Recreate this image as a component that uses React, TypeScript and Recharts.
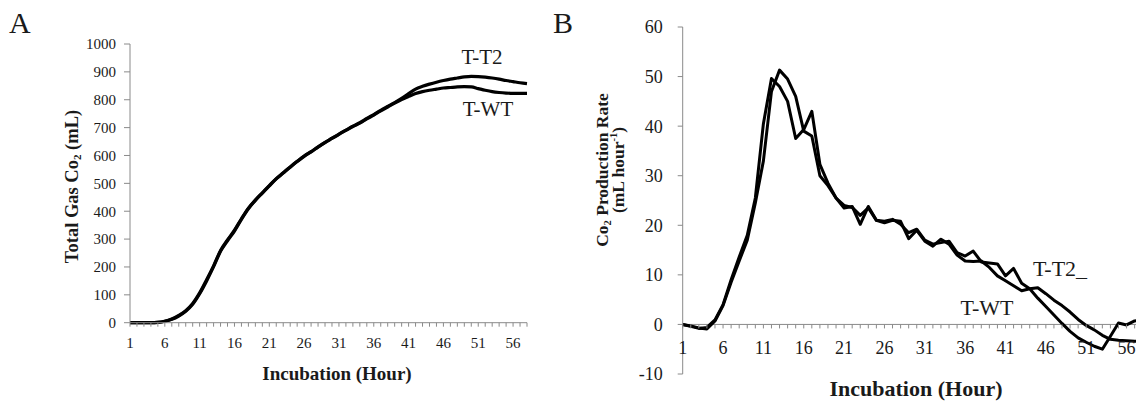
import { LineChart, Line, XAxis, YAxis, ReferenceLine } from 'recharts';

// incubation hours (categories)
const hours = [
  1, 2, 3, 4, 5, 6, 7, 8, 9, 10, 11, 12, 13, 14, 15, 16, 17, 18, 19, 20,
  21, 22, 23, 24, 25, 26, 27, 28, 29, 30, 31, 32, 33, 34, 35, 36, 37, 38, 39, 40,
  41, 42, 43, 44, 45, 46, 47, 48, 49, 50, 51, 52, 53, 54, 55, 56, 57, 58,
];
const hourLabels = [1, 6, 11, 16, 21, 26, 31, 36, 41, 46, 51, 56];

// panel A: total gas CO2 (mL)
const totalWT = [
  0, 0, 0, 0, 1, 5, 12, 24, 41, 66, 104, 150, 201, 256, 294, 329, 371, 409, 439, 465,
  491, 516, 537, 558, 578, 597, 613, 630, 646, 661, 676, 690, 704, 716, 731, 745, 760, 774, 788, 801,
  812, 822, 829, 834, 838, 842, 844, 846, 847, 846, 840, 834, 829, 826, 824, 823, 823, 823,
];
const totalT2 = [
  0, 0, 0, 0, 1, 5, 13, 26, 43, 69, 107, 154, 204, 259, 297, 332, 373, 411, 440, 466,
  492, 517, 538, 559, 579, 598, 614, 631, 647, 662, 677, 691, 705, 718, 733, 747, 762, 776, 790, 805,
  822, 838, 848, 856, 863, 869, 874, 878, 882, 884, 883, 881, 878, 874, 869, 865, 861, 858,
];
const totalTicks = [0, 100, 200, 300, 400, 500, 600, 700, 800, 900, 1000];

// panel B: CO2 production rate (mL/hour)
const rateWT = [
  0, -0.4, -0.8, -0.6, 0.9, 4.0, 9.0, 13.6, 18.0, 25.5, 40.5, 49.6, 48.0, 45.0, 37.5, 39.3, 43.0, 32.3, 28.5, 25.5,
  23.5, 23.8, 20.2, 23.8, 21.0, 20.5, 21.0, 20.8, 17.3, 19.0, 16.8, 15.8, 17.2, 16.2, 14.0, 12.8, 12.7, 12.8, 11.5, 9.8,
  8.8, 7.8, 6.8, 7.2, 5.3, 3.6, 1.9, 0.2, -1.4, -2.7, -3.6, -4.4, -5.0, -2.4, 0.3, -0.1, 0.7, 1.0,
];
const rateT2 = [
  0, -0.3, -0.7, -0.9, 0.7, 3.8, 8.5, 12.8, 17.0, 24.5, 33.0, 47.0, 51.3, 49.5, 46.0, 39.0, 38.0, 30.0, 28.0, 25.5,
  24.0, 23.6, 22.0, 23.5, 21.0, 20.8, 21.2, 20.2, 18.5, 19.2, 17.0, 16.2, 16.5, 16.8, 14.5, 13.8, 14.8, 12.6, 12.4, 12.2,
  9.8, 11.3, 8.3, 7.2, 7.4, 6.2, 4.9, 3.8, 2.5, 1.0, -0.2, -1.1, -2.2, -3.0, -3.2, -3.3, -3.4, -3.4,
];
const rateTicks = [-10, 0, 10, 20, 30, 40, 50, 60];

const totalData = hours.map((h, i) => ({ hour: h, wt: totalWT[i], t2: totalT2[i] }));
const rateData = hours.map((h, i) => ({ hour: h, wt: rateWT[i], t2: rateT2[i] }));

const FONT = '"Liberation Serif", "Times New Roman", serif';
const AXIS = '#8a8a8a';
const TEXT = '#1a1a1a';
const Y_AXIS_W = 60;
const X_AXIS_H = 20;

// chart A geometry (plot area: x 130..527, y 44..322.7)
const A_W = 540;
const A_H = 401;
const A_MARGIN = { top: 44, right: 13, bottom: 78.3 - X_AXIS_H, left: 130 - Y_AXIS_W };

// chart B geometry (plot area: x 682.7..1142.7, y 27..374), clipped at the page edge
const B_W = 590;
const B_H = 401;
const B_MARGIN = { top: 27, right: 7.3, bottom: 27 - X_AXIS_H, left: 122.7 - Y_AXIS_W };
const B_MIN = -10;
const B_MAX = 60;
const B_PLOT_H = B_H - 27 - 27;
const B_ZERO_SHIFT = (B_PLOT_H * (0 - B_MIN)) / (B_MAX - B_MIN);

function HourTick(props: any) {
  const { x, y, payload, shift, fontSize, gap } = props;
  const y0 = y - shift;
  const show = hourLabels.includes(payload.value);
  return (
    <g>
      <line x1={x} x2={x} y1={y0} y2={y0 + 4} stroke={AXIS} strokeWidth={1} />
      {show && (
        <text x={x} y={y0 + gap} textAnchor="middle" fontSize={fontSize} fontFamily={FONT} fill={TEXT}>
          {payload.value}
        </text>
      )}
    </g>
  );
}

function TotalGasChart() {
  return (
    <LineChart width={A_W} height={A_H} data={totalData} margin={A_MARGIN}>
      <XAxis
        dataKey="hour"
        type="number"
        domain={[1, 58]}
        ticks={hours}
        interval={0}
        height={X_AXIS_H}
        tickSize={0}
        tickMargin={0}
        tickLine={false}
        axisLine={{ stroke: AXIS, strokeWidth: 1 }}
        tick={<HourTick shift={0} fontSize={15} gap={25.5} />}
      />
      <YAxis
        type="number"
        domain={[0, 1000]}
        ticks={totalTicks}
        interval={0}
        width={Y_AXIS_W}
        tickSize={6}
        tickMargin={8}
        axisLine={{ stroke: AXIS, strokeWidth: 1 }}
        tickLine={{ stroke: AXIS, strokeWidth: 1 }}
        tick={{ fontSize: 15, fontFamily: FONT, fill: TEXT }}
      />
      <Line
        type="monotone"
        dataKey="t2"
        stroke="#000"
        strokeWidth={3.2}
        dot={false}
        strokeLinejoin="round"
        isAnimationActive={false}
      />
      <Line
        type="monotone"
        dataKey="wt"
        stroke="#000"
        strokeWidth={3.2}
        dot={false}
        strokeLinejoin="round"
        isAnimationActive={false}
      />
    </LineChart>
  );
}

function RateChart() {
  return (
    <LineChart width={B_W} height={B_H} data={rateData} margin={B_MARGIN}>
      <ReferenceLine y={0} stroke={AXIS} strokeWidth={1} />
      <XAxis
        dataKey="hour"
        type="number"
        domain={[1, 58]}
        ticks={hours}
        interval={0}
        height={X_AXIS_H}
        tickSize={0}
        tickMargin={0}
        tickLine={false}
        axisLine={false}
        tick={<HourTick shift={B_ZERO_SHIFT} fontSize={18} gap={30} />}
      />
      <YAxis
        type="number"
        domain={[B_MIN, B_MAX]}
        ticks={rateTicks}
        interval={0}
        width={Y_AXIS_W}
        tickSize={5}
        tickMargin={15}
        axisLine={{ stroke: AXIS, strokeWidth: 1 }}
        tickLine={{ stroke: AXIS, strokeWidth: 1 }}
        tick={{ fontSize: 18, fontFamily: FONT, fill: TEXT }}
      />
      <Line
        type="linear"
        dataKey="t2"
        stroke="#000"
        strokeWidth={3}
        dot={false}
        strokeLinejoin="round"
        isAnimationActive={false}
      />
      <Line
        type="linear"
        dataKey="wt"
        stroke="#000"
        strokeWidth={3}
        dot={false}
        strokeLinejoin="round"
        isAnimationActive={false}
      />
    </LineChart>
  );
}

export default function App() {
  return (
    <div
      style={{
        position: 'absolute',
        left: 0,
        top: 0,
        width: 1136,
        height: 401,
        overflow: 'hidden',
        background: '#fff',
        fontFamily: FONT,
      }}
    >
      <div style={{ position: 'absolute', left: 0, top: 0 }}>
        <TotalGasChart />
      </div>
      <div style={{ position: 'absolute', left: 560, top: 0 }}>
        <RateChart />
      </div>
      <svg
        width={1136}
        height={401}
        style={{ position: 'absolute', left: 0, top: 0, pointerEvents: 'none' }}
        fontFamily={FONT}
        fill={TEXT}
      >
        <text x={9} y={33} fontSize={30}>A</text>
        <text x={553} y={33} fontSize={30}>B</text>

        <text transform="translate(78,186.5) rotate(-90)" textAnchor="middle" fontSize={18.5} fontWeight="bold">
          Total Gas Co<tspan fontSize={11} dy={3}>2</tspan>
          <tspan dy={-3}> (mL)</tspan>
        </text>
        <text x={337} y={380} textAnchor="middle" fontSize={19} fontWeight="bold">
          Incubation (Hour)
        </text>
        <text x={482} y={64} textAnchor="middle" fontSize={21}>T-T2</text>
        <text x={488} y={116} textAnchor="middle" fontSize={21}>T-WT</text>

        <text transform="translate(608,170) rotate(-90)" textAnchor="middle" fontSize={17.5} fontWeight="bold">
          Co<tspan fontSize={10.5} dy={3}>2</tspan>
          <tspan dy={-3}> Production Rate</tspan>
        </text>
        <text transform="translate(624,170) rotate(-90)" textAnchor="middle" fontSize={17.5} fontWeight="bold">
          (mL hour<tspan fontSize={10.5} dy={-7}>-1</tspan>
          <tspan dy={7}>)</tspan>
        </text>
        <text x={916} y={396} textAnchor="middle" fontSize={22} fontWeight="bold">
          Incubation (Hour)
        </text>
        <text x={1060} y={276} textAnchor="middle" fontSize={22}>T-T2_</text>
        <text x={987} y={315} textAnchor="middle" fontSize={22}>T-WT</text>
      </svg>
    </div>
  );
}
